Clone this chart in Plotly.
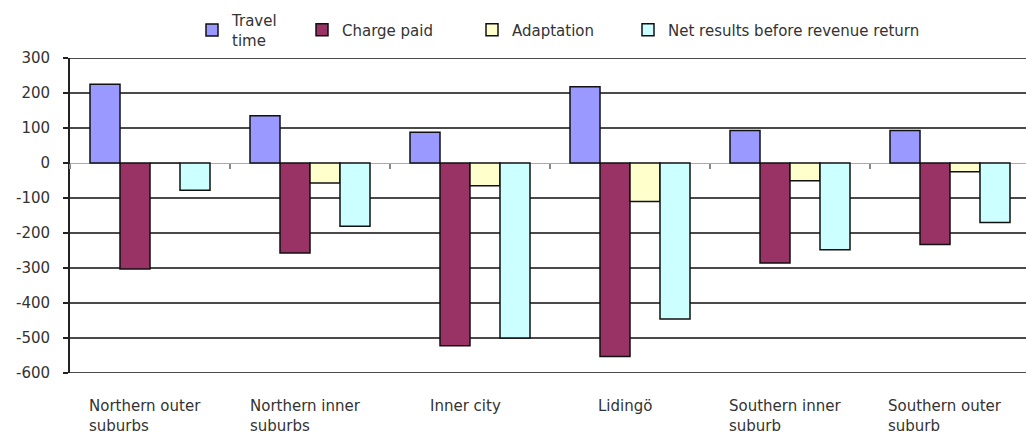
import plotly.graph_objects as go

# Welfare effects per area (SEK per person and year)
regions = ["Northern outer<br>suburbs", "Northern inner<br>suburbs", "Inner city",
           "Lidingö", "Southern inner<br>suburb", "Southern outer<br>suburb"]
travel_time = [225, 135, 88, 218, 93, 93]
charge_paid = [-303, -257, -522, -553, -286, -233]
adaptation = [0, -57, -65, -110, -51, -25]
net_results = [-78, -181, -500, -446, -248, -170]

y_ticks = list(range(-600, 301, 100))
y_labels = [str(v) for v in y_ticks]

FONT = "DejaVu Sans"
TEXT = "#333333"
GRID = "#4a4a4a"
W, H = 1026, 435
ML, MT, MB = 70, 58, 62
plot_w = W - ML
plot_h = H - MT - MB
band = 160.0  # pixel width of one category
x_end = -0.5 + plot_w / band
y_lo, y_hi = y_ticks[0], y_ticks[-1]

series = [
    ("Travel<br>time", travel_time, "#9999FF", "legend"),
    ("Charge paid", charge_paid, "#993366", "legend2"),
    ("Adaptation", adaptation, "#FFFFCC", "legend3"),
    ("Net results before revenue return", net_results, "#CCFFFF", "legend4"),
]

fig = go.Figure()
for name, vals, color, leg in series:
    fig.add_trace(go.Bar(
        x=regions, y=vals, name=name, legend=leg, showlegend=True,
        marker=dict(color=color, line=dict(color="#111111", width=1.5)),
    ))

# legend entries, one per series, spread along the top
leg_y = 1 + (MT - 30) / plot_h
leg_px = [192, 302, 472, 628]
leg_common = dict(orientation="h", yanchor="middle", y=leg_y, xanchor="left",
                  bgcolor="rgba(0,0,0,0)", font=dict(family=FONT, size=15, color=TEXT))
legends = {}
for key, px in zip(["legend", "legend2", "legend3", "legend4"], leg_px):
    legends[key] = dict(leg_common, x=(px - ML) / plot_w)

# category labels under the plot, left-aligned lines
annotations = [
    dict(x=r, y=-(395 - (H - MB)) / plot_h, xref="x", yref="paper", text=r,
         showarrow=False, xanchor="center", yanchor="top", align="left", xshift=-5,
         font=dict(family=FONT, size=15, color=TEXT))
    for r in regions
]

# outer gridlines at the ends of the value range
edge_lines = [
    dict(type="line", xref="paper", yref="y", x0=0, x1=1, y0=v, y1=v,
         line=dict(color=GRID, width=2), layer="below")
    for v in (y_lo, y_hi)
]

zero_pos = (0 - y_lo) / (y_hi - y_lo)

fig.update_layout(
    width=W, height=H,
    margin=dict(l=ML, r=0, t=MT, b=MB),
    paper_bgcolor="white", plot_bgcolor="white",
    showlegend=True,
    barmode="group", bargap=0.25, bargroupgap=0,
    annotations=annotations,
    shapes=edge_lines,
    xaxis=dict(range=[-0.5, x_end], anchor="free", position=zero_pos,
               showticklabels=False, tickson="boundaries",
               ticks="outside", ticklen=5, tickwidth=1.5, tickcolor="#888888",
               showgrid=False, zeroline=False, showline=False),
    yaxis=dict(range=[y_lo, y_hi], tickvals=y_ticks, ticktext=y_labels,
               showgrid=True, gridcolor=GRID, gridwidth=2,
               zeroline=True, zerolinecolor="#aaaaaa", zerolinewidth=1,
               showline=True, linecolor="#222222", linewidth=1.8,
               ticks="outside", ticklen=5, tickcolor="#222222", tickwidth=1.5,
               ticklabelstandoff=10,
               tickfont=dict(family=FONT, size=15, color=TEXT)),
    **legends,
)

fig.write_html("out.html")
